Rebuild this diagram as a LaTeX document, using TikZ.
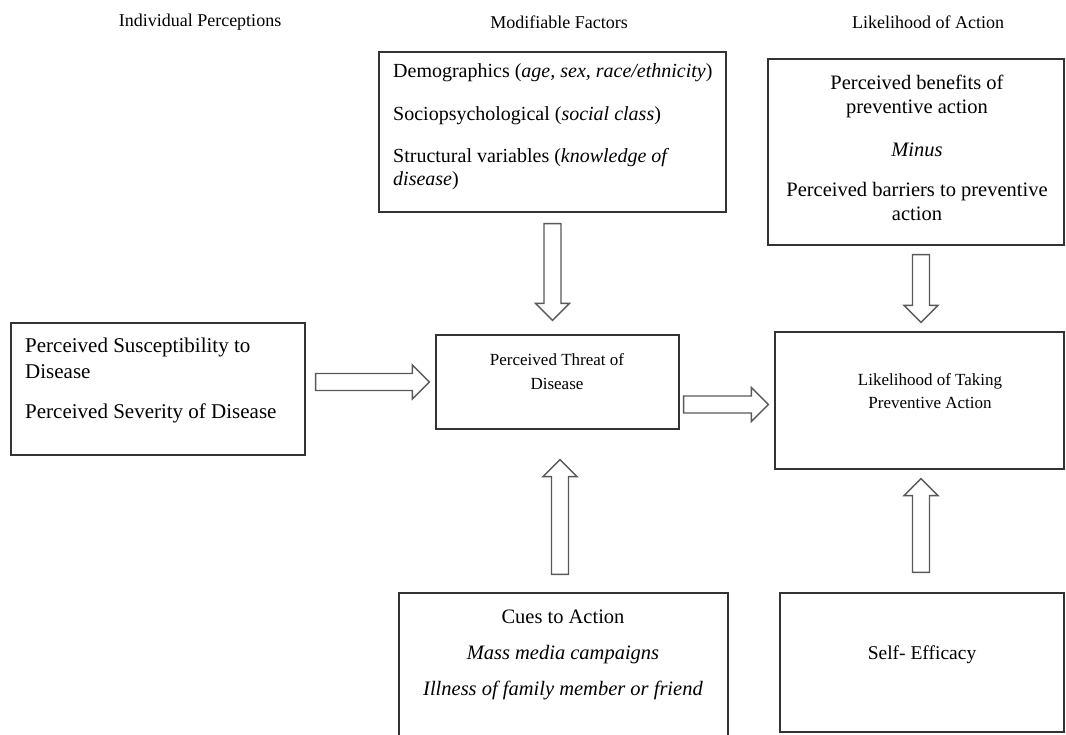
\documentclass[tikz,border=0pt]{standalone}
\usepackage{fontspec}
\setmainfont{Liberation Serif}
\usetikzlibrary{calc}

\begin{document}
\begin{tikzpicture}[
    x=1pt, y=1pt,
    heading/.style={inner sep=0pt, font=\fontsize{18}{22}\selectfont},
    box/.style 2 args={rectangle, draw=black!80, line width=1.3pt, minimum width=#1, minimum height=#2, inner sep=0pt},
    txt/.style={inner sep=0pt, align=center, font=\fontsize{20.5}{24}\selectfont},
    hollow/.style={draw=black!65, line width=1.4pt, fill=white, line join=miter,
        to path={let \p1=(\tikztostart), \p2=(\tikztotarget),
            \n1={atan2(\y2-\y1,\x2-\x1)}, \n2={veclen(\x2-\x1,\y2-\y1)} in
            [shift={(\p1)}, rotate=\n1]
            (0,-8.5) -- ({\n2-17},-8.5) -- ({\n2-17},-17) -- (\n2,0)
            -- ({\n2-17},17) -- ({\n2-17},8.5) -- (0,8.5) -- cycle}}
]
\useasboundingbox (0,0) rectangle (1066,-734);
\clip (0,0) rectangle (1066,-734);

% column headings
\node[heading] (h-indiv) at (200,-22) {Individual Perceptions};
\node[heading] (h-modif) at (559,-22) {Modifiable Factors};
\node[heading] (h-action) at (928,-22) {Likelihood of Action};

% boxes
\node[box={294}{132}] (susc) at (158,-389) {};
\node[box={347}{160}] (modif) at (552.5,-132) {};
\node[box={296}{186}] (benefit) at (916,-152) {};
\node[box={243}{94}] (threat) at (557.5,-382) {};
\node[box={289}{137}] (likely) at (919.5,-400.5) {};
\node[box={329}{152}] (cues) at (563.5,-669) {};
\node[box={284}{139}] (selfeff) at (922,-662.5) {};

% box texts
\node[txt, anchor=west, align=left, font=\fontsize{21}{26}\selectfont] (susc-t) at (25,-380)
    {Perceived Susceptibility to\\ Disease\\[14pt] Perceived Severity of Disease};
\node[txt, anchor=west, align=left, font=\fontsize{20}{22.5}\selectfont] (modif-t) at (393,-126.5)
    {Demographics (\textit{age, sex, race/ethnicity})\\[20pt]
     Sociopsychological (\textit{social class})\\[20pt]
     Structural variables (\textit{knowledge of}\\ \textit{disease})};
\node[txt] (benefit-t) at (917,-147.5)
    {Perceived benefits of\\ preventive action\\[19pt] \textit{Minus}\\[16pt]
     Perceived barriers to preventive\\ action};
\node[txt, font=\fontsize{17}{24}\selectfont] (threat-t) at (557,-372) {Perceived Threat of\\ Disease};
\node[txt, font=\fontsize{17}{23}\selectfont] (likely-t) at (930,-391.5) {Likelihood of Taking\\ Preventive Action};
\node[txt] (cues-t) at (563,-655)
    {Cues to Action\\[12pt] \textit{Mass media campaigns}\\[12pt] \textit{Illness of family member or friend}};
\node[txt, font=\fontsize{19.5}{24}\selectfont] (selfeff-t) at (922,-655) {Self- Efficacy};

% block arrows
\draw[hollow] ($(susc.east |- threat.west)+(10,0)$) to ($(threat.west)+(-6,0)$);
\draw[hollow] ($(threat.east |- likely.west)+(4,-4)$) to ($(likely.west)+(-6,-4)$);
\draw[hollow] ($(modif.south)+(0,-11)$) to ($(modif.south |- threat.north)+(0,14)$);
\draw[hollow] ($(likely.north |- benefit.south)+(1.5,-9)$) to ($(likely.north)+(1.5,9)$);
\draw[hollow] ($(cues.north)+(-3.5,18)$) to ($(cues.north |- threat.south)+(-3.5,-30)$);
\draw[hollow] ($(selfeff.north)+(-1,20)$) to ($(likely.south -| selfeff.north)+(-1,-9)$);
\end{tikzpicture}
\end{document}
